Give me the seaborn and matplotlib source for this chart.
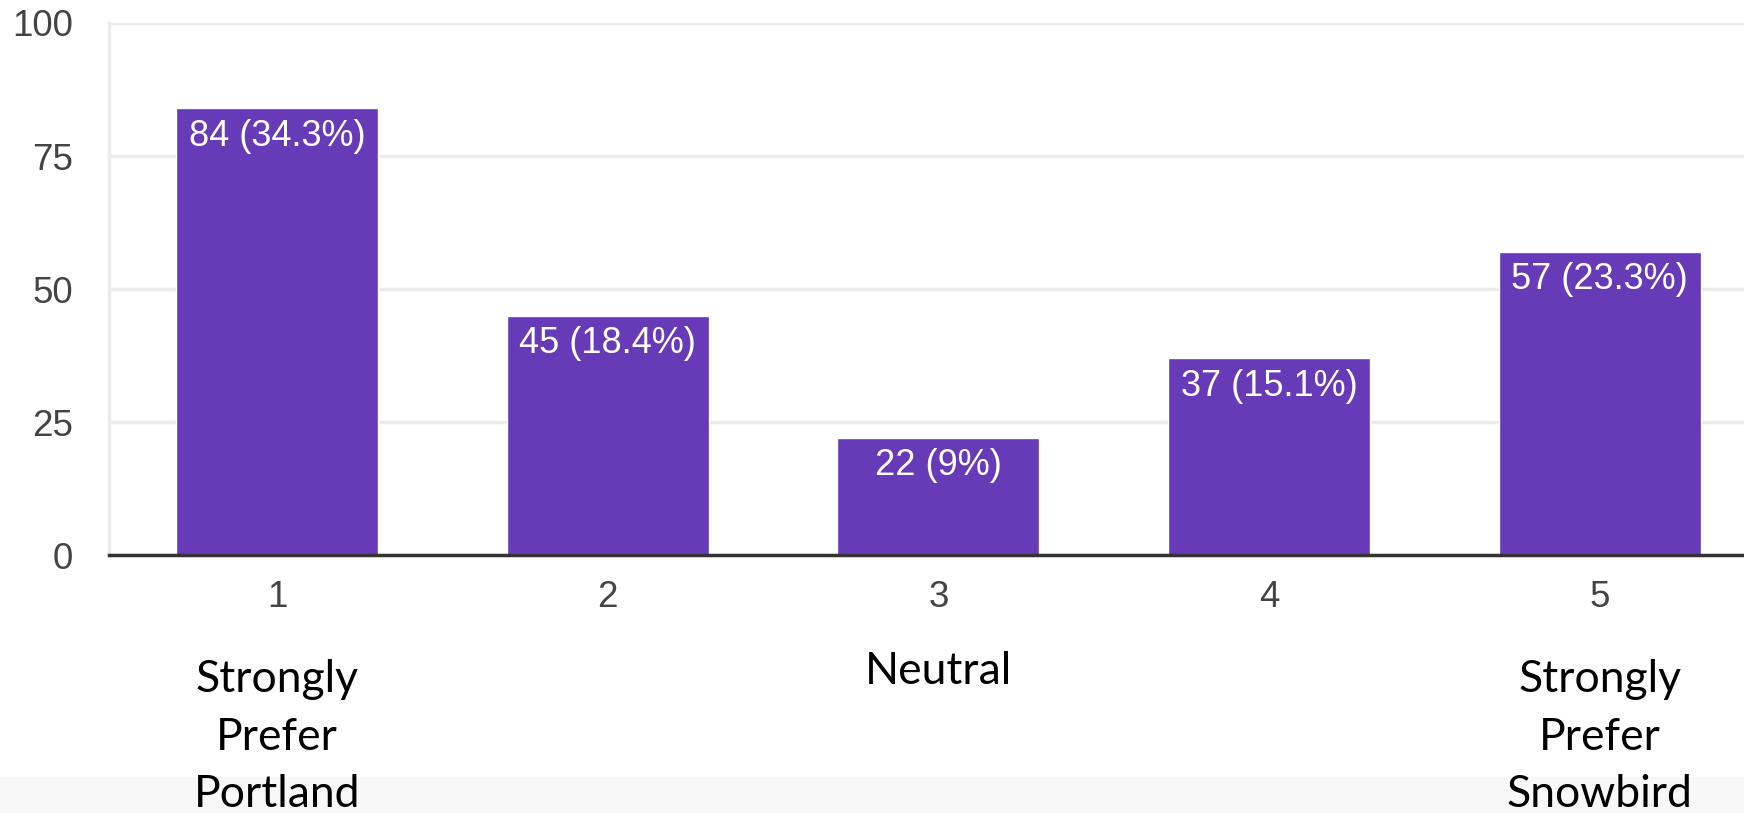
import matplotlib
matplotlib.use("Agg")
import matplotlib.pyplot as plt
import matplotlib.transforms as mtransforms
from matplotlib.patches import Rectangle
import seaborn as sns
import pandas as pd

# ---- data ----
categories = ["1", "2", "3", "4", "5"]
counts = [84, 45, 22, 37, 57]
percents = [34.3, 18.4, 9, 15.1, 23.3]
y_ticks = [0, 25, 50, 75, 100]
scale_labels = {0: ["Strongly", "Prefer", "Portland"],
                2: ["Neutral"],
                4: ["Strongly", "Prefer", "Snowbird"]}

BAR = "#673ab7"
W, H = 1744, 813

sns.set_theme(style="white")
plt.rcParams["font.family"] = ["Liberation Sans", "DejaVu Sans"]

fig = plt.figure(figsize=(W / 100, H / 100), dpi=100)
fig.patch.set_facecolor("white")

# light grey band at the very bottom
fig.patches.append(Rectangle((0, 0), 1, (H - 777) / H, transform=fig.transFigure,
                             facecolor="#f8f8f8", edgecolor="none", zorder=0))

left = 109 / W
bottom = (H - 555) / H
top = (H - 23) / H
ax = fig.add_axes([left, bottom, 1.0 - left + 0.002, top - bottom])
ax.set_zorder(2)
ax.set_facecolor("white")

df = pd.DataFrame({"cat": categories, "count": counts})
sns.barplot(data=df, x="cat", y="count", color=BAR, saturation=1, width=0.61,
            ax=ax, zorder=2)

ax.set_xlim(-0.508, 4.447)
ax.set_ylim(0, 100)
ax.set_yticks(y_ticks)
ax.set_xlabel("")
ax.set_ylabel("")
ax.yaxis.grid(True, color="#ebebeb", linewidth=2.5, zorder=0)
ax.set_axisbelow(True)
for s in ["top", "right"]:
    ax.spines[s].set_visible(False)
ax.spines["left"].set_color("#ebebeb")
ax.spines["left"].set_linewidth(2.5)
ax.spines["bottom"].set_color("#333333")
ax.spines["bottom"].set_linewidth(2.5)
ax.spines["bottom"].set_zorder(5)

ax.tick_params(axis="y", length=0, pad=26, labelsize=26.5, labelcolor="#444444")
ax.tick_params(axis="x", length=0, pad=18, labelsize=26.5, labelcolor="#444444")

# value labels inside bars
for i, (c, p) in enumerate(zip(counts, percents)):
    ax.annotate(f"{c} ({p:g}%)", xy=(i, c), xytext=(0, -27),
                textcoords="offset points", ha="center", va="baseline",
                color="white", fontsize=26, zorder=6)

# scale description labels below the axis
trans = mtransforms.blended_transform_factory(ax.transData, fig.transFigure)
for i, lines in scale_labels.items():
    base = 684 if len(lines) == 1 else 692
    for k, line in enumerate(lines):
        ypix = base + k * 57.5
        ax.text(i, (H - ypix) / H, line, transform=trans, ha="center",
                va="baseline", fontsize=32, color="black",
                family=["Lato", "DejaVu Sans"], clip_on=False, zorder=7)

fig.savefig("out.png", dpi=100, facecolor="white")
